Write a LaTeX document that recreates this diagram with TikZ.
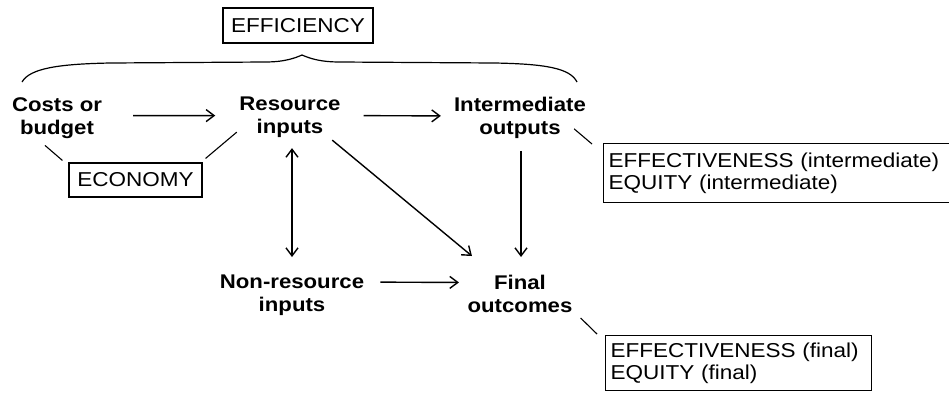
\documentclass[tikz,border=0pt]{standalone}
\usepackage{fontspec}
\setmainfont{Liberation Sans}[FakeStretch=1.12]
\usetikzlibrary{arrows.meta}
\begin{document}
\begin{tikzpicture}[x=1pt,y=-1pt,
  lab/.style={font=\fontsize{19.8}{23}\selectfont\bfseries, align=center, inner sep=0pt, anchor=north},
  boxlab/.style={draw, line width=1.1pt, font=\fontsize{20.1}{22.5}\selectfont, inner sep=0pt},
  tip/.tip={Straight Barb[length=8pt,width=12pt]},
  arr/.style={line width=1.4pt, -tip},
  dbl/.style={line width=1.4pt, tip-tip},
  link/.style={line width=1.1pt}]
\path[use as bounding box, clip] (0,0) rectangle (949,392);
\fill[white] (0,0) rectangle (949,392);

% labels
\node[lab] (costs)  at (57,97)  {Costs or\\budget};
\node[lab] (res)    at (290,97) {Resource\\inputs};
\node[lab] (inter)  at (520,97) {Intermediate\\outputs};
\node[lab] (nonres) at (292,275) {Non-resource\\inputs};
\node[lab] (final)  at (520,275) {Final\\outcomes};

% boxes
\node[boxlab, minimum width=150pt, minimum height=35pt] (eff) at (298,25.5) {EFFICIENCY};
\node[boxlab, minimum width=133pt, minimum height=34pt] (econ) at (135.5,180) {ECONOMY};
\node[boxlab, anchor=north west, align=left, minimum height=59pt, inner xsep=5pt, text width=370pt] (ibox) at (603,143)
  {EFFECTIVENESS (intermediate)\\EQUITY (intermediate)};
\node[boxlab, anchor=north west, align=left, minimum height=55pt, inner xsep=5pt, text width=256pt] (fbox) at (605,335)
  {EFFECTIVENESS (final)\\EQUITY (final)};

% brace
\draw[line width=1.2pt] (22,82) .. controls (30,68) and (60,64) .. (110,63) -- (265,62)
  .. controls (285,62) and (295,58) .. (302,55)
  .. controls (309,58) and (319,62) .. (340,62) -- (495,63)
  .. controls (545,64) and (570,68) .. (577,82);

% arrows
\draw[arr, shorten <=31pt, shorten >=24pt] ([yshift=2pt]costs.east) -- ([yshift=2pt]res.west);
\draw[arr, shorten <=23pt, shorten >=13pt] ([yshift=2pt]res.east) -- ([yshift=2pt]inter.west);
\draw[arr, shorten <=16pt, shorten >=8.5pt] ([yshift=13.5pt]nonres.east) -- ([yshift=11.5pt]final.west);
\draw[dbl, shorten <=10pt, shorten >=18pt] ([xshift=2pt]res.south) -- (nonres.north);
\draw[arr, shorten <=12pt, shorten >=18pt] ([xshift=1pt]inter.south) -- ([xshift=1pt]final.north);
\draw[arr] ([shift={(-8.5pt,-2pt)}]res.south east) -- ([shift={(4.5pt,19pt)}]final.north west);

% links
\draw[link] ([shift={(-12pt,-7pt)}]costs.south) -- ([shift={(-6pt,2pt)}]econ.north west);
\draw[link] ([shift={(-2.5pt,6pt)}]res.south west) -- ([shift={(3pt,4pt)}]econ.north east);
\draw[link] ([shift={(-12pt,10pt)}]inter.south east) -- ([shift={(-11pt,-1pt)}]ibox.north west);
\draw[link] ([shift={(8pt,-5pt)}]final.south east) -- ([shift={(-8pt,1pt)}]fbox.north west);
\end{tikzpicture}
\end{document}
